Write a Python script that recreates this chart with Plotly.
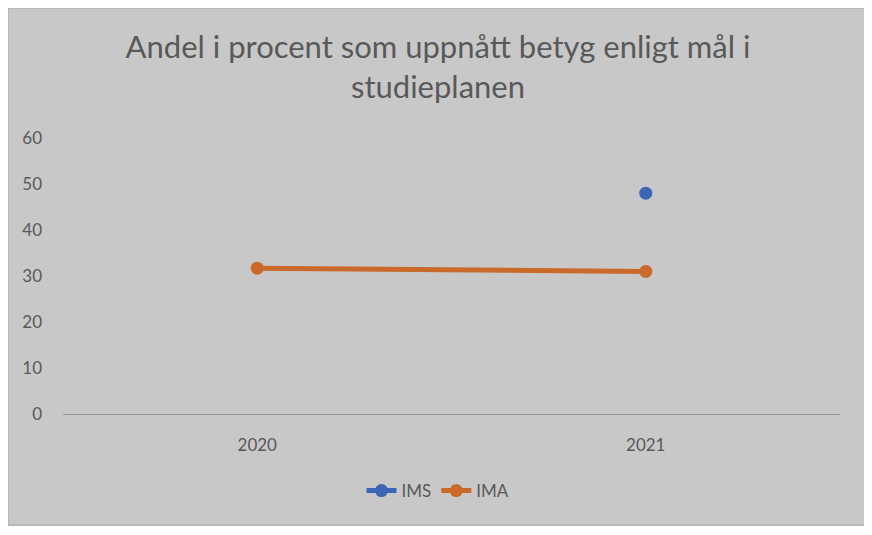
import plotly.graph_objects as go

categories = ["2020", "2021"]
ims_values = [None, 48]
ima_values = [31.7, 31]
series_names = ["IMS", "IMA"]
title_text = "Andel i procent som uppnått betyg enligt mål i<br>studieplanen"

BG = "#c8c8c8"
TXT = "#595959"
BLUE = "#3d64b5"
ORANGE = "#c96a2b"
FONT = "Lato, Open Sans, sans-serif"

fig = go.Figure()
fig.add_trace(go.Scatter(x=categories, y=ims_values, name=series_names[0],
                         mode="lines+markers",
                         line=dict(color=BLUE, width=5),
                         marker=dict(color=BLUE, size=13)))
fig.add_trace(go.Scatter(x=categories, y=ima_values, name=series_names[1],
                         mode="lines+markers",
                         line=dict(color=ORANGE, width=5),
                         marker=dict(color=ORANGE, size=13)))

W, H = 860, 518
L, R, T, B = 55, 28, 130, 112
pw, ph = W - L - R, H - T - B

fig.add_shape(type="rect", xref="paper", yref="paper",
              x0=-L / pw, x1=1 + (R - 1) / pw, y0=-(B - 1) / ph, y1=1 + T / ph,
              fillcolor="rgba(0,0,0,0)", line=dict(color="#a8a8a8", width=1),
              layer="below")

fig.update_layout(
    width=W, height=H,
    margin=dict(l=L, r=R, t=T, b=B, autoexpand=False),
    paper_bgcolor=BG,
    plot_bgcolor=BG,
    font=dict(family=FONT, color=TXT, size=17),
    title=dict(text=title_text, x=0.5, xanchor="center", xref="container",
               y=1 - 50 / H, yanchor="middle",
               font=dict(size=31, color=TXT, family=FONT)),
    showlegend=True,
    legend=dict(orientation="h", x=(W / 2 - L) / pw, xanchor="center",
                y=(H - B - 483) / ph,
                yanchor="middle", bgcolor="rgba(0,0,0,0)",
                font=dict(size=17, color=TXT), tracegroupgap=0),
    xaxis=dict(type="category", range=[-0.5, 1.5], showgrid=False,
               showline=True, linecolor="#9a9a9a", linewidth=1,
               ticks="", ticklabelstandoff=16, zeroline=False),
    yaxis=dict(range=[0, 60], dtick=10, showgrid=False, zeroline=False,
               showline=False, ticks="", ticklabelstandoff=20),
)

fig.write_html("out.html")
